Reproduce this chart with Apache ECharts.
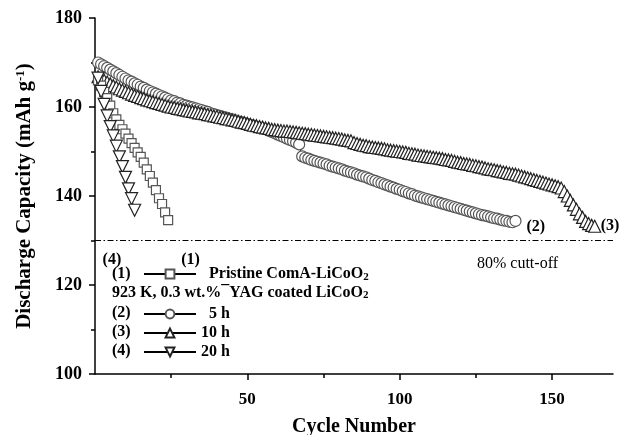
<!DOCTYPE html>
<html><head><meta charset="utf-8">
<script src="https://cdn.jsdelivr.net/npm/echarts@6/dist/echarts.min.js"></script>
<style>html,body{margin:0;padding:0;background:#fff}#c{width:624px;height:435px}</style>
</head><body><div id="c"></div>
<script>
// ---- data ----
const xMajorLabels = [50, 100, 150];
const xMinorTicks = [25, 75, 125];
const cutoffValue = 130;
const seriesNames = ['Pristine ComA-LiCoO2', '5 h', '10 h', '20 h'];
const endTags = ['(1)', '(2)', '(3)', '(4)'];

const pristine = [166.0, 164.8, 163.4, 162.0, 160.3, 158.6, 157.2, 156.0, 155.0, 154.0,
  152.9, 151.9, 150.8, 149.8, 148.8, 147.5, 146.0, 144.5, 143.0, 141.3,
  139.5, 138.2, 136.3, 134.6];

const coated5h = [170.0, 169.6, 169.2, 168.8, 168.4, 168.0, 167.6, 167.2, 166.8, 166.4,
  166.0, 165.7, 165.3, 165.0, 164.6, 164.3, 163.9, 163.6, 163.3, 163.0,
  162.7, 162.4, 162.1, 161.8, 161.5, 161.3, 161.0, 160.8, 160.5, 160.3,
  160.1, 159.9, 159.7, 159.5, 159.3, 159.1, 158.9, 158.6, 158.4, 158.2,
  158.0, 157.8, 157.6, 157.4, 157.2, 157.0, 156.8, 156.6, 156.4, 156.2,
  156.0, 155.8, 155.6, 155.4, 155.2, 155.0, 154.7, 154.4, 154.1, 153.8,
  153.5, 153.2, 152.9, 152.6, 152.3, 152.0, 151.6,
  148.9, 148.6, 148.4,
  148.1, 147.9, 147.7, 147.5, 147.3, 147.1, 146.8, 146.6, 146.4, 146.2,
  146.0, 145.7, 145.5, 145.3, 145.1, 144.8, 144.6, 144.4, 144.2, 143.9,
  143.6, 143.4, 143.1, 142.9, 142.6, 142.4, 142.1, 141.9, 141.6, 141.4,
  141.1, 140.9, 140.6, 140.4, 140.1, 139.9, 139.7, 139.5, 139.3, 139.1,
  138.9, 138.7, 138.5, 138.3, 138.1, 137.9, 137.7, 137.5, 137.3, 137.1,
  136.9, 136.7, 136.5, 136.3, 136.1, 135.9, 135.7, 135.6, 135.4, 135.2,
  135.0, 134.9, 134.7, 134.5, 134.4, 134.2, 134.1, 134.4];

const coated10h = [166.8, 166.4, 166.0, 165.6, 165.2, 164.8, 164.5, 164.1, 163.8, 163.5,
  163.2, 162.9, 162.6, 162.4, 162.1, 161.9, 161.6, 161.4, 161.2, 161.0,
  160.8, 160.6, 160.4, 160.2, 160.0, 159.9, 159.7, 159.6, 159.4, 159.3,
  159.1, 159.0, 158.9, 158.7, 158.6, 158.5, 158.3, 158.2, 158.0, 157.9,
  157.7, 157.6, 157.4, 157.3, 157.1, 157.0, 156.8, 156.6, 156.5, 156.3,
  156.1, 155.9, 155.8, 155.6, 155.5, 155.3, 155.2, 155.0, 154.9, 154.8,
  154.7, 154.6, 154.6, 154.5, 154.4, 154.3, 154.2, 154.1, 154.0, 153.9,
  153.8, 153.7, 153.6, 153.5, 153.4, 153.3, 153.2, 153.1, 153.0, 152.9,
  152.8, 152.6, 152.5, 152.4, 152.0, 151.8, 151.6, 151.4, 151.3, 151.1,
  151.0, 150.9, 150.8, 150.7, 150.6, 150.4, 150.3, 150.2, 150.1, 150.0,
  149.9, 149.8, 149.6, 149.5, 149.4, 149.2, 149.1, 149.0, 148.9, 148.8,
  148.7, 148.6, 148.5, 148.4, 148.2, 148.1, 148.0, 147.8, 147.6, 147.5,
  147.3, 147.2, 147.1, 146.9, 146.8, 146.6, 146.5, 146.3, 146.1, 146.0,
  145.9, 145.7, 145.6, 145.4, 145.3, 145.1, 145.0, 144.9, 144.7, 144.5,
  144.3, 144.1, 143.9, 143.7, 143.5, 143.3, 143.1, 142.9, 142.7, 142.5,
  142.3, 142.1, 141.8, 141.0, 140.0, 139.0, 138.0, 137.0, 136.0, 135.2,
  134.3, 133.8, 133.4, 133.2];

const coated20h = [166.5, 163.5, 160.6, 158.0, 155.6, 153.5, 151.2, 148.8, 146.6, 144.2,
  141.6, 139.4, 136.8];

// ---- chart ----
const FONT = '"Liberation Serif", "Times New Roman", serif';
const pairs = arr => arr.map((v, i) => [i + 1, v]);

function lineSeries(name, data, symbol, opts) {
  return Object.assign({
    name: name,
    type: 'line',
    data: pairs(data),
    symbol: symbol,
    symbolSize: 11,
    showAllSymbol: true,
    lineStyle: { color: '#000', width: 1 },
    itemStyle: { color: '#fff', borderColor: '#555', borderWidth: 1.2 },
    emphasis: { disabled: true },
    animation: false,
    z: 2
  }, opts);
}

const tagStyle = { show: true, color: '#000', fontFamily: FONT, fontWeight: 'bold', fontSize: 16 };
const gridBox = { left: 95, right: 11, top: 18, bottom: 61, containLabel: false, outerBoundsMode: 'none' };

const option = {
  backgroundColor: '#fff',
  animation: false,
  grid: [Object.assign({}, gridBox), Object.assign({}, gridBox)],
  xAxis: [{
    type: 'value', min: 0, max: 170, interval: 50, gridIndex: 0,
    name: 'Cycle Number', nameLocation: 'middle', nameGap: 43,
    nameTextStyle: { color: '#000', fontFamily: FONT, fontWeight: 'bold', fontSize: 20 },
    axisLine: { show: true, onZero: false, lineStyle: { color: '#000', width: 1.5 } },
    axisTick: { show: true, customValues: xMajorLabels, length: 6, lineStyle: { color: '#000', width: 1.5 } },
    axisLabel: { customValues: xMajorLabels, color: '#000', fontFamily: FONT, fontWeight: 'bold', fontSize: 17, margin: 17 },
    splitLine: { show: false }
  }, {
    type: 'value', min: 0, max: 170, interval: 50, gridIndex: 1, position: 'bottom',
    axisLine: { show: false, onZero: false },
    axisTick: { show: true, customValues: xMinorTicks, length: 4, lineStyle: { color: '#000', width: 1.5 } },
    axisLabel: { show: false },
    splitLine: { show: false }
  }],
  yAxis: [{
    type: 'value', min: 100, max: 180, interval: 20, gridIndex: 0,
    name: 'Discharge Capacity (mAh g{sup|-1})', nameLocation: 'middle', nameGap: 60,
    nameTextStyle: {
      color: '#000', fontFamily: FONT, fontWeight: 'bold', fontSize: 21,
      rich: { sup: { fontFamily: FONT, fontWeight: 'bold', fontSize: 13, lineHeight: 13, verticalAlign: 'top', color: '#000' } }
    },
    axisLine: { show: true, onZero: false, lineStyle: { color: '#000', width: 1.5 } },
    axisTick: { show: true, length: 6, lineStyle: { color: '#000', width: 1.5 } },
    minorTick: { show: true, splitNumber: 2, length: 4, lineStyle: { color: '#000', width: 1.5 } },
    axisLabel: { color: '#000', fontFamily: FONT, fontWeight: 'bold', fontSize: 18, margin: 13 },
    splitLine: { show: false }
  }, {
    type: 'value', min: 100, max: 180, interval: 20, gridIndex: 1, show: false
  }],
  legend: [{
    data: [seriesNames[0]],
    orient: 'vertical', left: 143, top: 266, padding: 0,
    itemWidth: 52, itemHeight: 11, selectedMode: false,
    formatter: () => '{t|  Pristine ComA-LiCoO}{s|2}',
    textStyle: {
      color: '#000', fontFamily: FONT, fontWeight: 'bold', fontSize: 16,
      rich: {
        t: { fontFamily: FONT, fontWeight: 'bold', fontSize: 16, lineHeight: 18, color: '#000' },
        s: { fontFamily: FONT, fontWeight: 'bold', fontSize: 11, lineHeight: 11, verticalAlign: 'bottom', color: '#000' }
      }
    }
  }, {
    data: seriesNames.slice(1),
    orient: 'vertical', left: 143, top: 305, padding: 0, itemGap: 1,
    itemWidth: 52, itemHeight: 11, selectedMode: false,
    formatter: n => (n === '5 h' ? '  5 h' : n),
    textStyle: { color: '#000', fontFamily: FONT, fontWeight: 'bold', fontSize: 16, lineHeight: 18 }
  }],
  graphic: [
    { type: 'text', left: 112, top: 266, style: { text: '(1)', font: 'bold 16px ' + FONT, fill: '#000' } },
    { type: 'text', left: 112, top: 285, style: {
        text: '923 K, 0.3 wt.%\u00AFYAG coated LiCoO{s|2}', font: 'bold 16px ' + FONT, fill: '#000',
        rich: { s: { font: 'bold 11px ' + FONT, lineHeight: 11, verticalAlign: 'bottom', fill: '#000' } } } },
    { type: 'text', left: 112, top: 305, style: { text: '(2)', font: 'bold 16px ' + FONT, fill: '#000' } },
    { type: 'text', left: 112, top: 324, style: { text: '(3)', font: 'bold 16px ' + FONT, fill: '#000' } },
    { type: 'text', left: 112, top: 343, style: { text: '(4)', font: 'bold 16px ' + FONT, fill: '#000' } }
  ],
  series: [
    lineSeries(seriesNames[1], coated5h, 'circle', {
      symbolSize: 11,
      itemStyle: { color: '#fff', borderColor: '#555', borderWidth: 1.2 },
      endLabel: Object.assign({}, tagStyle, { formatter: endTags[1], offset: [3, 6] })
    }),
    lineSeries(seriesNames[2], coated10h, 'triangle', {
      symbolSize: 12,
      itemStyle: { color: '#fff', borderColor: '#222', borderWidth: 1.2 },
      endLabel: Object.assign({}, tagStyle, { formatter: endTags[2], offset: [-2, 0] }),
      markLine: {
        silent: true, symbol: ['none', 'none'], animation: false,
        data: [{ yAxis: cutoffValue }],
        lineStyle: { color: '#000', width: 1.2, type: [6, 2.5, 1.5, 2.5] },
        label: { show: true, formatter: '80% cutt-off', position: 'insideEndBottom', offset: [-50, 10],
          color: '#000', fontFamily: FONT, fontWeight: 'normal', fontSize: 16 }
      }
    }),
    lineSeries(seriesNames[0], pristine, 'rect', {
      symbolSize: 9,
      itemStyle: { color: '#fff', borderColor: '#555', borderWidth: 1.2 },
      endLabel: Object.assign({}, tagStyle, { formatter: endTags[0], offset: [5, 40] })
    }),
    lineSeries(seriesNames[3], coated20h, 'triangle', {
      symbolSize: 12,
      symbolRotate: 180,
      itemStyle: { color: '#fff', borderColor: '#222', borderWidth: 1.2 },
      endLabel: Object.assign({}, tagStyle, { formatter: endTags[3], offset: [-40, 50] })
    })
  ]
};

const chart = echarts.init(document.getElementById('c'), null, { renderer: 'canvas' });
chart.setOption(option);
</script>
</body></html>
